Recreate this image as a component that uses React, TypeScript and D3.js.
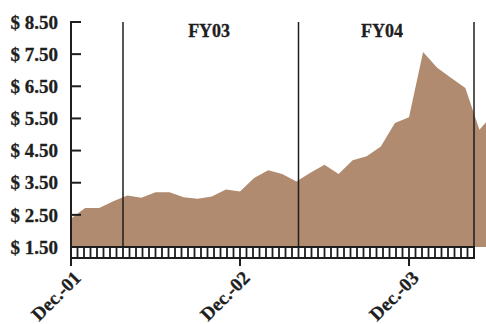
import React from "react";
import * as d3 from "d3";

// Monthly closing price, starting Dec-01
const priceValues = [
  2.38, 2.71, 2.71, 2.92, 3.1, 3.03, 3.2, 3.2, 3.05, 3.0, 3.07, 3.29, 3.23,
  3.65, 3.89, 3.77, 3.54, 3.81, 4.06, 3.77, 4.2, 4.32, 4.63, 5.36, 5.54, 7.57,
  7.08, 6.76, 6.45, 5.15, 5.65,
];
const yTickValues = [1.5, 2.5, 3.5, 4.5, 5.5, 6.5, 7.5, 8.5];
// Axis is measured in weeks from Dec-01
const dateTickWeeks = [0, 52, 104];
const dateTickLabels = ["Dec.-01", "Dec.-02", "Dec.-03"];
const fiscalLineWeeks = [16, 70, 124];
const fiscalLabels = ["FY03", "FY04"];
const fiscalLabelWeeks = [42.5, 95.7];

const W = 486;
const H = 324;
const FONT = "'Liberation Serif', 'Times New Roman', serif";
const INK = "#1e1e1e";
const FILL = "#b08b6f";

export default function App() {
  const x = d3.scaleLinear().domain([0, 124]).range([71, 474]);
  const y = d3.scaleLinear().domain([1.5, 8.5]).range([247, 22]);
  const weekOfMonth = (i: number) => (i * 52) / 12;

  const area = d3
    .area<number>()
    .x((_, i) => x(weekOfMonth(i)))
    .y0(y(1.5))
    .y1((d) => y(d));

  const bandTop = y(1.5);
  const bandBottom = bandTop + 11;
  const cellWeeks = d3.range(0, 125, 2);

  return (
    <svg
      width={W}
      height={H}
      style={{ position: "absolute", left: 0, top: 0, background: "#fff" }}
    >
      <defs>
        <clipPath id="plotClip">
          <rect x={x(0)} y={0} width={W - x(0)} height={bandTop} />
        </clipPath>
      </defs>

      <path d={area(priceValues) ?? ""} fill={FILL} clipPath="url(#plotClip)" />

      {/* fiscal year separators */}
      {fiscalLineWeeks.map((w, i) => (
        <line
          key={i}
          x1={x(w)}
          x2={x(w)}
          y1={y(8.5)}
          y2={i === fiscalLineWeeks.length - 1 ? bandBottom : bandTop}
          stroke={INK}
          strokeWidth={1.5}
        />
      ))}
      {fiscalLabels.map((t, i) => (
        <text
          key={t}
          x={x(fiscalLabelWeeks[i])}
          y={37}
          textAnchor="middle"
          fontFamily={FONT}
          fontWeight="bold"
          fontSize={18}
          fill={INK}
          stroke={INK}
          strokeWidth={0.3}
        >
          {t}
        </text>
      ))}

      {/* ruler-style date band */}
      <rect
        x={x(0)}
        y={bandTop}
        width={x(124) - x(0)}
        height={bandBottom - bandTop}
        fill="#fff"
        stroke={INK}
        strokeWidth={2}
      />
      {cellWeeks.map((w) => (
        <line
          key={w}
          x1={x(w)}
          x2={x(w)}
          y1={bandTop}
          y2={bandBottom}
          stroke={INK}
          strokeWidth={1.8}
        />
      ))}
      {dateTickWeeks.map((w, i) => (
        <g key={w}>
          <line
            x1={x(w)}
            x2={x(w)}
            y1={bandBottom}
            y2={bandBottom + 8}
            stroke={INK}
            strokeWidth={2}
          />
          <text
            transform={`translate(${x(w) + 11},${bandBottom + 21}) rotate(-45)`}
            textAnchor="end"
            fontFamily={FONT}
            fontWeight="bold"
            fontSize={19}
            fill={INK}
            stroke={INK}
            strokeWidth={0.3}
          >
            {dateTickLabels[i]}
          </text>
        </g>
      ))}

      {/* value axis */}
      <line
        x1={x(0)}
        x2={x(0)}
        y1={y(8.5) - 1}
        y2={bandBottom + 8}
        stroke={INK}
        strokeWidth={2}
      />
      {yTickValues.map((v) => (
        <g key={v}>
          <line
            x1={x(0)}
            x2={x(0) + 10}
            y1={y(v)}
            y2={y(v)}
            stroke={INK}
            strokeWidth={2}
          />
          <text
            x={58}
            y={y(v)}
            dy="0.35em"
            textAnchor="end"
            fontFamily={FONT}
            fontWeight="bold"
            fontSize={19}
            fill={INK}
            stroke={INK}
            strokeWidth={0.3}
          >
            {`$ ${v.toFixed(2)}`}
          </text>
        </g>
      ))}
    </svg>
  );
}
